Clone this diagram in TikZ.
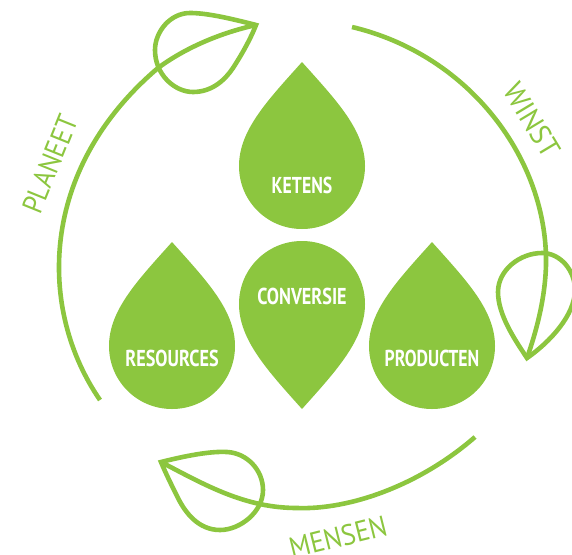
\documentclass[tikz,border=0pt]{standalone}
\usepackage{fontspec}
\setmainfont{PT Sans}
\definecolor{leaf}{HTML}{8CC63F}
\newcommand{\squeezed}[2]{\scalebox{#1}[1]{#2}}
\tikzset{
  lineart/.style={draw=leaf,line width=4.6pt,line join=miter,fill=none},
  droptext/.style={text=white,font=\bfseries\fontsize{23}{23}\selectfont,inner sep=0pt},
  ringtext/.style={text=leaf,font=\fontsize{29}{29}\selectfont,inner sep=0pt},
  dropfill/.style={fill=leaf,draw=none}
}
\begin{document}
\begin{tikzpicture}[x=1pt,y=-1pt]
\useasboundingbox (0,0) rectangle (572,554);
\clip (0,0) rectangle (572,554);
% drops pointing up
\foreach \cx/\cy in {302/166,172/346,432/346}{
  \fill[dropfill] (\cx,\cy-104) .. controls (\cx-34,\cy-66) and (\cx-63,\cy-36) .. (\cx-63,\cy)
    .. controls (\cx-63,\cy+35) and (\cx-35,\cy+63) .. (\cx,\cy+63)
    .. controls (\cx+35,\cy+63) and (\cx+63,\cy+35) .. (\cx+63,\cy)
    .. controls (\cx+63,\cy-36) and (\cx+34,\cy-66) .. (\cx,\cy-104) -- cycle;
}
% drop pointing down
\fill[dropfill] (302,409) .. controls (268,371) and (239,340) .. (239,304)
    .. controls (239,269) and (267,241) .. (302,241)
    .. controls (337,241) and (365,269) .. (365,304)
    .. controls (365,340) and (336,371) .. (302,409) -- cycle;
\node[droptext] (ketens) at (302,185) {\squeezed{0.77}{KETENS}};
\node[droptext] (conversie) at (302,296) {\squeezed{0.79}{CONVERSIE}};
\node[droptext] (resources) at (172,358) {\squeezed{0.79}{RESOURCES}};
\node[droptext] (producten) at (432,358) {\squeezed{0.77}{PRODUCTEN}};
% ring arcs
\draw[lineart] (100,400) .. controls (38,310) and (38,170) .. (158,68)
   .. controls (185,48) and (220,33) .. (256,25);
\draw[lineart] (352,27) .. controls (470,55) and (548,160) .. (546,265)
   .. controls (545,300) and (536,332) .. (527,358);
\draw[lineart] (475,437) .. controls (420,485) and (350,510) .. (297,508)
   .. controls (245,508) and (205,485) .. (161,462);
% leaf outlines
\draw[lineart] (256,25) .. controls (225,17) and (205,13) .. (190,13)
   .. controls (170,13) and (155,32) .. (155,50)
   .. controls (155,75) and (175,92) .. (193,92)
   .. controls (212,92) and (225,80) .. (233,68)
   .. controls (242,54) and (250,40) .. (256,25) -- cycle;
\draw[lineart] (527,358) .. controls (515,340) and (498,315) .. (498,292)
   .. controls (498,270) and (520,253) .. (542,253)
   .. controls (560,253) and (575,270) .. (575,290)
   .. controls (575,315) and (550,342) .. (527,358) -- cycle;
\draw[lineart] (161,462) .. controls (185,456) and (210,451) .. (227,452)
   .. controls (247,453) and (263,470) .. (263,490)
   .. controls (263,512) and (240,530) .. (220,530)
   .. controls (198,530) and (185,512) .. (178,498)
   .. controls (172,486) and (166,474) .. (161,462) -- cycle;
% ring labels
\node[ringtext,rotate=68] (planeet) at (50,164) {\squeezed{0.9}{PLANEET}};
\node[ringtext,rotate=-59] (winst) at (532,120) {\squeezed{0.98}{WINST}};
\node[ringtext,rotate=14] (mensen) at (338,537) {\squeezed{0.92}{MENSEN}};
\end{tikzpicture}
\end{document}
